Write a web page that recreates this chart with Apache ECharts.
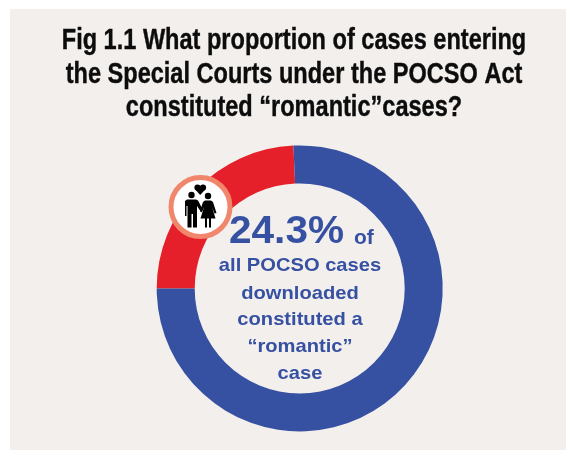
<!DOCTYPE html>
<html><head><meta charset="utf-8">
<script src="https://cdn.jsdelivr.net/npm/echarts@6/dist/echarts.min.js"></script>
<style>html,body{margin:0;padding:0;background:#fff}#c{width:566px;height:450px}</style>
</head><body><div id="c"></div>
<script>
const categories = ['“Romantic” cases', 'Other POCSO cases'];
const shares = [24.3, 75.7];
const colors = ['#E6202B', '#3650A2'];
const titleLines = ['Fig 1.1 What proportion of cases entering', 'the Special Courts under the POCSO Act', 'constituted “romantic”cases?'];
const bigValue = '24.3%';
const bigSuffix = 'of';
const caption = ['all POCSO cases', 'downloaded', 'constituted a', '“romantic”', 'case'];

const blue = colors[1];
const captionY = [266, 293.4, 320, 346.7, 373.4];
const titleY = [41, 75, 108];
const sans = '"Liberation Sans", Arial, sans-serif';
const k = 0.812;

const poly = (pts) => ({type:'polygon', z:61, shape:{points:pts}, style:{fill:'#000'}});
const graphics = [
  {type:'rect', z:-10, silent:true, shape:{x:10,y:9,width:556,height:441}, style:{fill:'#F3EFEC'}},
  ...titleLines.map((t,i)=>({type:'text', z:50, x:294, y:titleY[i], scaleX:k, style:{text:t, fill:'#0c0c0c', font:'bold 29px '+sans, align:'center', verticalAlign:'middle', stroke:'#0c0c0c', lineWidth:0.4}})),
  {type:'text', z:50, x:229, y:232, scaleX:1.04, style:{text:bigValue, fill:blue, font:'bold 39px '+sans, align:'left', verticalAlign:'middle'}},
  {type:'text', z:50, x:354, y:238.4, style:{text:bigSuffix, fill:blue, font:'bold 21px '+sans, align:'left', verticalAlign:'middle'}},
  ...caption.map((t,i)=>({type:'text', z:50, x:300, y:captionY[i], scaleX:1.06, style:{text:t, fill:blue, font:'bold 19px '+sans, align:'center', verticalAlign:'middle'}})),
  {type:'circle', z:60, shape:{cx:200.5,cy:207,r:29.5}, style:{fill:'#fff', stroke:'#F0866C', lineWidth:5}},
  // heart
  {type:'circle', z:61, shape:{cx:197.5,cy:187.5,r:3.1}, style:{fill:'#000'}},
  {type:'circle', z:61, shape:{cx:203,cy:187.5,r:3.1}, style:{fill:'#000'}},
  poly([[194.6,188.8],[205.9,188.8],[200.2,195]]),
  // man
  {type:'circle', z:61, shape:{cx:191.5,cy:195,r:3.2}, style:{fill:'#000'}},
  poly([[187,199.5],[196,199.5],[198,200.5],[203,210],[201,212],[197,206],[197,227.5],[193,227.5],[193,214],[191.5,214],[191.5,227.5],[187.5,227.5],[187.5,206],[186.5,206],[186.5,216],[185,216],[185,201]]),
  // woman
  {type:'circle', z:61, shape:{cx:208,cy:196,r:3.2}, style:{fill:'#000'}},
  poly([[205,200.5],[211,200.5],[213,202],[216.5,213],[214.5,213.5],[212,207],[215.5,218.5],[211,218.5],[211,227.5],[209,227.5],[209,218.5],[207,218.5],[207,227.5],[205,227.5],[205,218.5],[200.5,218.5],[204,207],[201.5,212.5],[200,211],[203,202]])
];

const chart = echarts.init(document.getElementById('c'), null, {renderer:'canvas'});
chart.setOption({
  backgroundColor:'transparent',
  animation:false,
  series:[{
    type:'pie',
    center:[299.7,288.4],
    radius:[105,143],
    startAngle:180,
    clockwise:true,
    silent:true,
    label:{show:false},
    labelLine:{show:false},
    data:categories.map((n,i)=>({name:n,value:shares[i],itemStyle:{color:colors[i]}}))
  }],
  graphic:graphics
});
</script></body></html>
